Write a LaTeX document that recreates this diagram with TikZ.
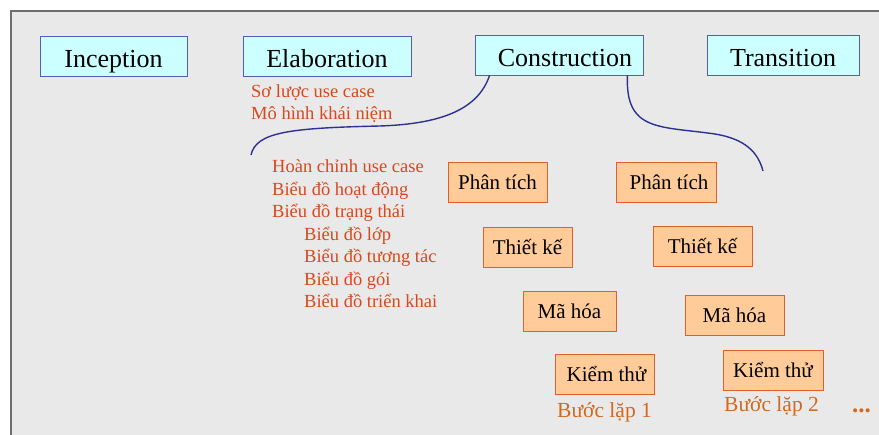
\documentclass[tikz,border=0pt]{standalone}
\usepackage{fontspec}
\setmainfont{Liberation Serif}
\definecolor{panelgray}{HTML}{E9E9E9}
\definecolor{edgegray}{HTML}{6E6E6E}
\definecolor{phasefill}{HTML}{CCFFFF}
\definecolor{phaseline}{HTML}{5060B8}
\definecolor{stepfill}{HTML}{FFCC99}
\definecolor{stepline}{HTML}{E0602A}
\definecolor{notered}{HTML}{D8481C}
\definecolor{iterorange}{HTML}{D2691E}
\definecolor{curveblue}{HTML}{2E3192}
\tikzset{
  phase/.style={draw=phaseline, fill=phasefill, line width=0.9pt, minimum height=40pt,
    inner sep=0pt, text height=23pt, text depth=0pt, font=\fontsize{26}{30}\selectfont},
  stepbox/.style={draw=stepline, fill=stepfill, line width=1pt, minimum width=99pt,
    minimum height=40pt, inner sep=0pt, text height=14pt, text depth=0pt,
    font=\fontsize{21}{24}\selectfont},
  note/.style={anchor=base west, inner sep=0pt, text=notered, font=\fontsize{18.5}{22}\selectfont},
  iter/.style={anchor=base west, inner sep=0pt, text=iterorange, font=\fontsize{21.5}{24}\selectfont},
  wave/.style={draw=curveblue, line width=1.4pt}
}
\begin{document}
\begin{tikzpicture}[x=1pt,y=-1pt]
\useasboundingbox (0,0) rectangle (879,435);
\fill[panelgray] (10,10) rectangle (879,435);
\draw[edgegray, line width=2pt] (11,435) -- (11,11) -- (879,11);

% four phases
\node[phase, minimum width=147pt] (inc) at (113.5,56) {Inception};
\node[phase, minimum width=168pt] (ela) at (327,56.5) {Elaboration};
\node[phase, minimum width=168pt] (con) at (559,55) {\hspace*{12pt}Construction};
\node[phase, minimum width=152pt] (tra) at (783,55) {Transition};

\node[note] (ela1) at (251,98) {Sơ lược use case};
\node[note] (ela2) at (251,120) {Mô hình khái niệm};

% the bracket of construction
\coordinate (cA) at (251,155);
\coordinate (cB) at (763,171);
\draw[wave] (cA) .. controls (256,132) and (290,128) .. (380,126)
  .. controls (440,124) and (478,110) .. ([xshift=15pt]con.south west);
\draw[wave] ([xshift=-16pt]con.south east) .. controls (625,132) and (660,126) .. (715,134)
  .. controls (745,139) and (758,152) .. (cB);

\foreach \x/\y/\t [count=\i] in {272/173/Hoàn chỉnh use case, 272/195.5/Biểu đồ hoạt động,
    272/218/Biểu đồ trạng thái, 304/240.5/Biểu đồ lớp, 304/263/Biểu đồ tương tác,
    304/285.5/Biểu đồ gói, 304/308/Biểu đồ triển khai}
  \node[note] (lst\i) at (\x,\y) {\t};

% iteration 1
\node[stepbox] (pt1) at (497.5,183) {Phân tích};
\node[stepbox, minimum width=89pt] (tk1) at (527.5,247.5) {Thiết kế};
\node[stepbox, minimum width=93pt] (mh1) at (569.5,311.5) {Mã hóa};
\node[stepbox] (kt1) at (604.5,375) {\hspace*{4pt}Kiểm thử};
\node[iter] (it1) at (557,418) {Bước lặp 1};

% iteration 2
\node[stepbox, minimum width=100pt] (pt2) at (666,183) {\hspace*{6pt}Phân tích};
\node[stepbox] (tk2) at (702.5,247) {Thiết kế};
\node[stepbox] (mh2) at (734.5,316) {Mã hóa};
\node[stepbox, minimum width=100pt] (kt2) at (773,371) {Kiểm thử};
\node[iter] (it2) at (724,412) {Bước lặp 2};
\node[iter, font=\fontsize{25}{28}\selectfont\bfseries] (more) at (852,413) {...};
\end{tikzpicture}
\end{document}
